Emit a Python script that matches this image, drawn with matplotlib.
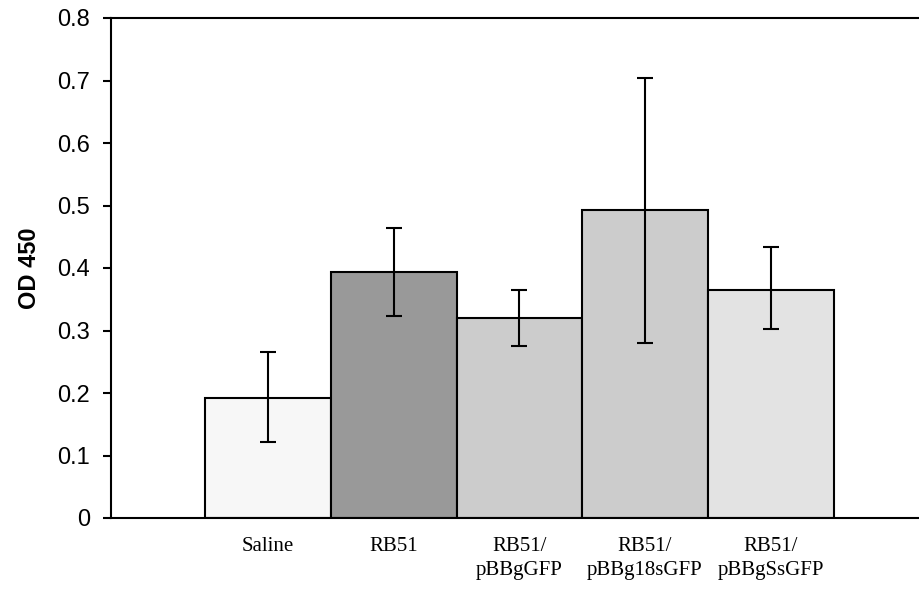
import numpy as np
import matplotlib.pyplot as plt

groups = ["Saline", "RB51", "RB51/\npBBgGFP", "RB51/\npBBg18sGFP", "RB51/\npBBgSsGFP"]
od_mean = [0.192, 0.394, 0.320, 0.493, 0.365]
err_high = [0.266, 0.464, 0.365, 0.704, 0.434]
err_low = [0.122, 0.323, 0.275, 0.280, 0.302]
bar_colors = ["#f7f7f7", "#999999", "#cccccc", "#cccccc", "#e3e3e3"]
y_ticks = [0, 0.1, 0.2, 0.3, 0.4, 0.5, 0.6, 0.7, 0.8]
y_labels = ["0", "0.1", "0.2", "0.3", "0.4", "0.5", "0.6", "0.7", "0.8"]

fig = plt.figure(figsize=(9.19, 5.92), dpi=100)
ax = fig.add_axes([111 / 919, 74 / 592, 808 / 919, 500 / 592])

x = np.arange(len(groups))
mean = np.array(od_mean)
yerr = [mean - np.array(err_low), np.array(err_high) - mean]
ax.bar(x, mean, width=1.0, color=bar_colors, edgecolor="black", linewidth=1.5, zorder=2)
ax.errorbar(x, mean, yerr=yerr, fmt="none", ecolor="black", elinewidth=1.5,
            capsize=5.5, capthick=1.5, zorder=3)

ax.set_xlim(-1.25, 5.18)
ax.set_ylim(0, 0.8)
ax.set_yticks(y_ticks, y_labels, fontfamily="Liberation Sans", fontsize=17)
ax.set_xticks(x, groups, fontfamily="Liberation Serif", fontsize=15, linespacing=1.3)
ax.tick_params(axis="x", length=0, pad=14)
ax.tick_params(axis="y", direction="out", length=6, width=1.5, pad=9)
ax.set_ylabel("OD 450", fontfamily="Liberation Sans", fontweight="bold", fontsize=17, labelpad=12)

ax.spines["right"].set_visible(False)
for side in ["left", "top", "bottom"]:
    ax.spines[side].set_linewidth(1.5)

fig.savefig("out.png", dpi=100)
